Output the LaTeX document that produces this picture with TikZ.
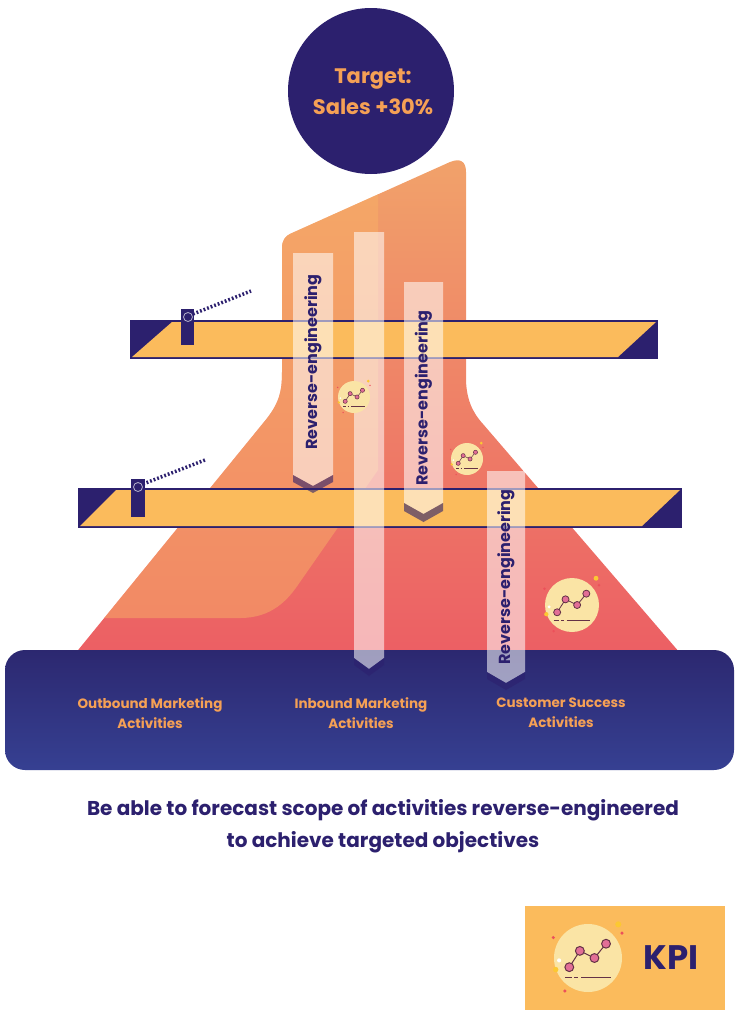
\documentclass[tikz,border=0pt]{standalone}
\usepackage{fontspec}
\setmainfont{Poppins}
\usetikzlibrary{calc}

\definecolor{navy}{RGB}{44,32,110}
\definecolor{baryellow}{RGB}{251,187,92}
\definecolor{flasktop}{RGB}{241,162,106}
\definecolor{flaskbot}{RGB}{236,94,100}
\definecolor{flasklight}{RGB}{248,176,102}
\definecolor{basetop}{RGB}{44,40,112}
\definecolor{basebot}{RGB}{54,64,146}
\definecolor{actorange}{RGB}{245,160,85}
\definecolor{iconcream}{RGB}{250,228,165}
\definecolor{dotpink}{RGB}{226,110,150}
\definecolor{dotline}{RGB}{100,50,70}
\definecolor{sparkyellow}{RGB}{252,200,50}
\definecolor{sparkred}{RGB}{236,80,90}

% outline of the orange flask / pyramid
\newcommand\flaskpath{(70,660) -- (264,422) .. controls (279,404) and (282,392) .. (282,372)
  -- (282,248) .. controls (282,240) and (285,236) .. (292,233) -- (450,162)
  .. controls (460,158) and (466,161) .. (466,172) -- (466,378)
  .. controls (466,398) and (472,412) .. (483,424) -- (686,660) -- cycle}

\begin{document}
\begin{tikzpicture}[x=1pt, y=-1pt,
  strip/.style={fill=white, fill opacity=0.55},
  chevron/.style={fill=navy, fill opacity=0.6},
  revlabel/.style={rotate=90, text=navy, font=\bfseries\fontsize{16}{16}\selectfont},
  actlabel/.style={align=center, text=actorange, font=\bfseries\fontsize{13.5}{20}\selectfont},
  gatearm/.style={navy, line width=3.5pt, dash pattern=on 1.8pt off 2pt},
  charticon/.pic={
    \fill[iconcream] (0,0) circle (1);
    \draw[dotline] (-0.55,0.27) -- (-0.24,-0.21) -- (0.19,0) -- (0.53,-0.42);
    \foreach \px/\py in {-0.55/0.27, -0.24/-0.21, 0.19/0, 0.53/-0.42}
      \filldraw[fill=dotpink, draw=dotline] (\px,\py) circle (0.13);
    \draw[dotline] (-0.68,0.58) -- (-0.48,0.58) (-0.4,0.58) -- (-0.3,0.58) (-0.2,0.58) -- (0.68,0.58);
    \fill[sparkyellow] (0.89,-0.99) circle (0.09) (-0.95,0.34) circle (0.08);
    \fill[sparkred] (1.0,-0.73) circle (0.05) (-1.02,-0.6) circle (0.05) (-0.68,0.97) circle (0.05);
    \fill[white] (-0.85,0.07) circle (0.06);
  }]
\useasboundingbox (0,0) rectangle (736,1010);

% target circle
\fill[navy] (371,91) circle (83);
\node[text=actorange, align=center, font=\bfseries\fontsize{21}{31}\selectfont] (target) at (373,92) {Target:\\Sales +30\%};

% flask with lighter left half
\shade[top color=flasktop, bottom color=flaskbot] \flaskpath;
\begin{scope}
  \clip \flaskpath;
  \fill[flasklight, opacity=0.5] (0,100) -- (378,100) -- (378,470) -- (300,582)
    .. controls (288,600) and (272,618) .. (240,618) -- (0,618) -- cycle;
\end{scope}

% the two gate bars
\fill[navy] (130,320) rectangle (658,359);
\fill[baryellow] (172,322) -- (656,322) -- (618,357) -- (132,357) -- cycle;
\fill[navy] (181,309) rectangle (194,345);
\filldraw[fill=navy, draw=white!65!navy, line width=0.8pt] (188,317) circle (4.5);
\draw[gatearm] (193,314) -- (251,291);

\fill[navy] (78,488) rectangle (682,528);
\fill[baryellow] (116,490) -- (680,490) -- (642,526) -- (80,526) -- cycle;
\fill[navy] (131,479) rectangle (145,517);
\filldraw[fill=navy, draw=white!65!navy, line width=0.8pt] (138,487) circle (4.5);
\draw[gatearm] (143,484) -- (205,460);

% activity base
\shade[rounded corners=20pt, top color=basetop, bottom color=basebot] (5,650) rectangle (734,770);
\node[actlabel] (outbound) at (150,713) {Outbound Marketing\\Activities};
\node[actlabel] (inbound) at (361,713) {Inbound Marketing\\Activities};
\node[actlabel] (success) at (561,713) {Customer Success\\Activities};

% reverse-engineering arrows
\fill[strip] (293,253) -- (333,253) -- (333,475) -- (313,486) -- (293,475) -- cycle;
\fill[chevron] (293,475) -- (313,486) -- (333,475) -- (333,482) -- (313,493) -- (293,482) -- cycle;
\fill[strip] (354,232) -- (384,232) -- (384,658) -- (369,669) -- (354,658) -- cycle;
\fill[chevron] (354,658) -- (369,669) -- (384,658) -- (384,665) -- (369,676) -- (354,665) -- cycle;
\fill[strip] (404,282) -- (443,282) -- (443,503) -- (423.5,514) -- (404,503) -- cycle;
\fill[chevron] (404,503) -- (423.5,514) -- (443,503) -- (443,511) -- (423.5,522) -- (404,511) -- cycle;
\fill[strip] (487,471) -- (525,471) -- (525,672) -- (506,683) -- (487,672) -- cycle;
\fill[chevron] (487,672) -- (506,683) -- (525,672) -- (525,679) -- (506,690) -- (487,679) -- cycle;
\node[revlabel] (revA) at (313,362) {Reverse-engineering};
\node[revlabel] (revC) at (423.5,398) {Reverse-engineering};
\node[revlabel] (revD) at (506,577) {Reverse-engineering};

% small chart badges
\pic[scale=16, line width=0.5pt] (iconA) at (354,397) {charticon};
\pic[scale=16, line width=0.5pt] (iconC) at (467,459) {charticon};
\pic[scale=27, line width=0.8pt] (iconD) at (572,605) {charticon};

% caption
\node[text=navy, align=center, font=\bfseries\fontsize{20}{32}\selectfont] (caption) at (383,826)
  {Be able to forecast scope of activities reverse-engineered\\to achieve targeted objectives};

% KPI tag
\fill[baryellow] (525,906) rectangle (725,1010);
\pic[scale=34, line width=1pt] (iconK) at (588,958) {charticon};
\node[text=navy, font=\bfseries\fontsize{34}{34}\selectfont] (kpi) at (671,958) {KPI};
\end{tikzpicture}
\end{document}
